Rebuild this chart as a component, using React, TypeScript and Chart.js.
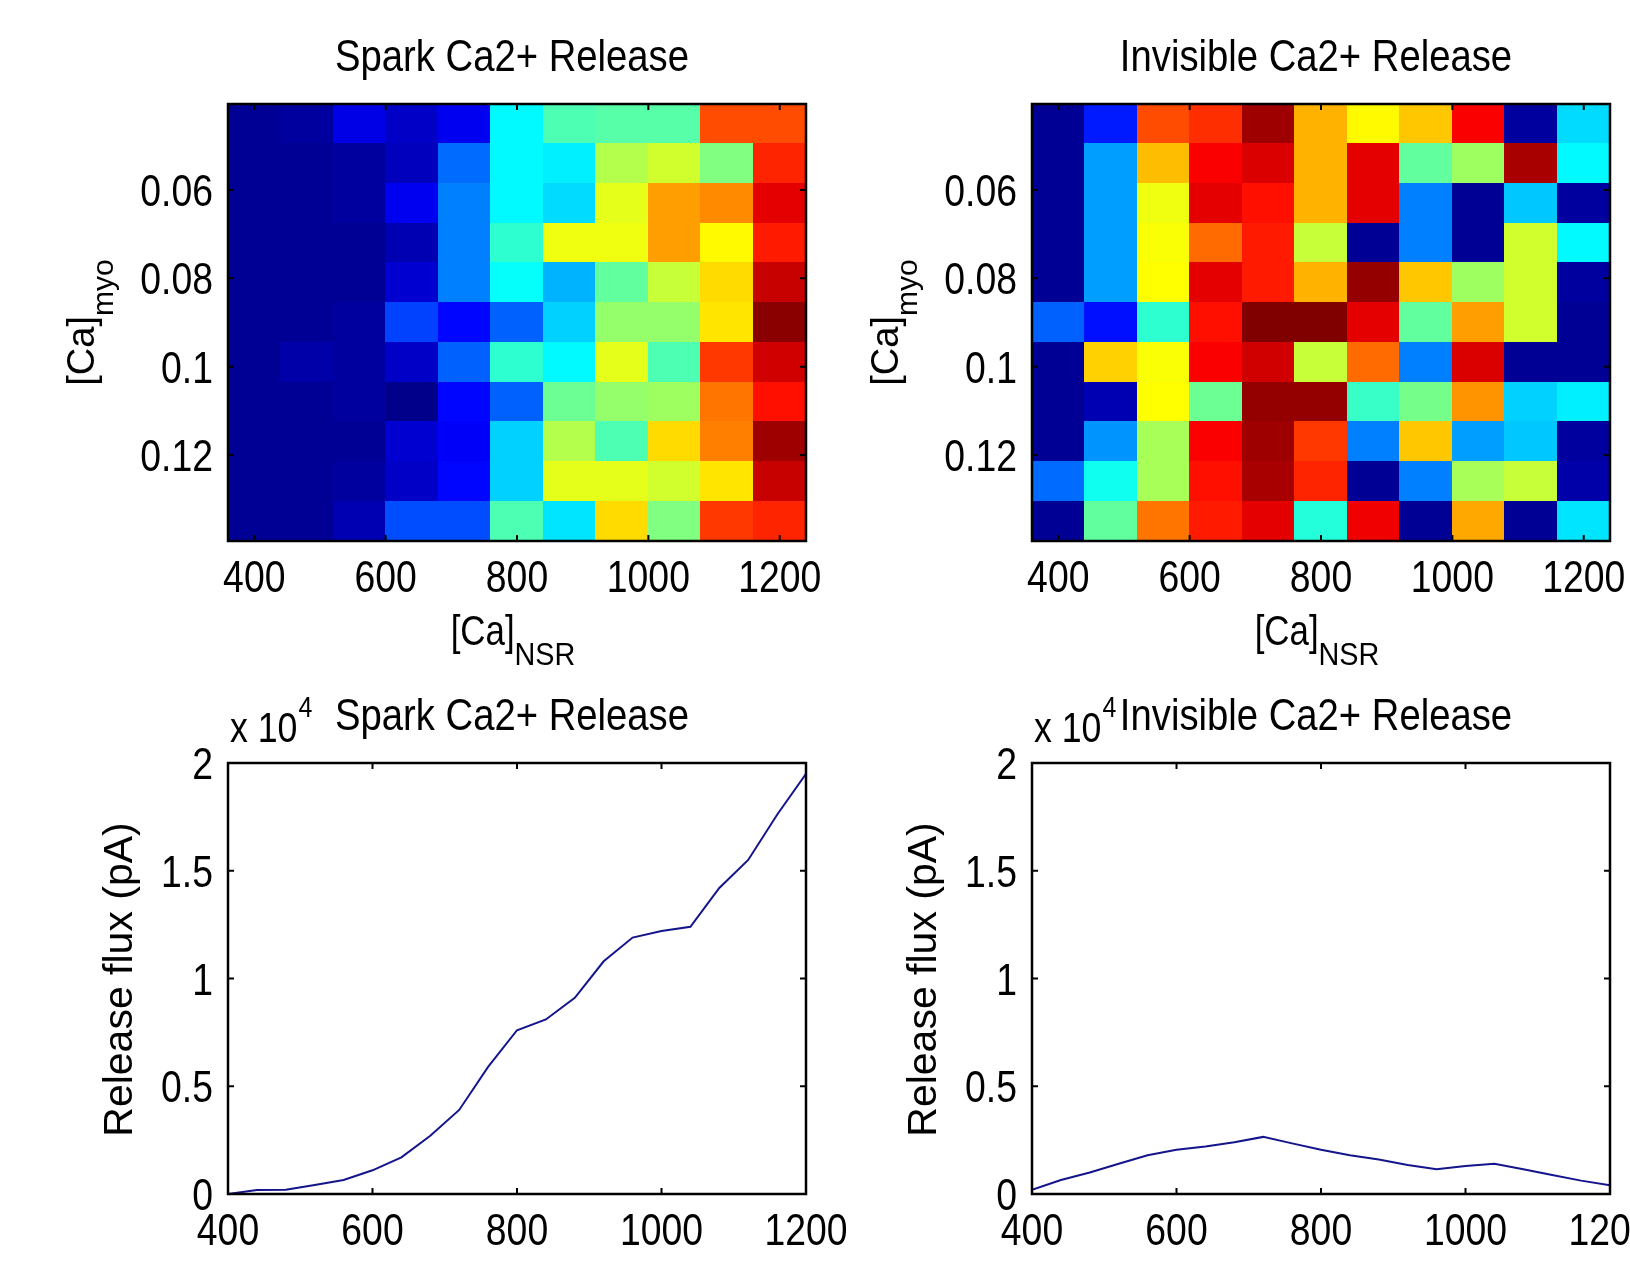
import React, { useEffect, useRef } from "react";
import { Chart, registerables } from "chart.js";

Chart.register(...registerables);

// ---------- data ----------
const nsrCenters = [400, 480, 560, 640, 720, 800, 880, 960, 1040, 1120, 1200];
const myoCenters = [0.045, 0.054, 0.063, 0.072, 0.081, 0.09, 0.099, 0.108, 0.117, 0.126, 0.135];

// normalised colour values (0 = lowest, 1 = highest), rows top -> bottom
const sparkGrid = [
  [0.02, 0.03, 0.10, 0.07, 0.11, 0.37, 0.45, 0.46, 0.46, 0.80, 0.80],
  [0.02, 0.02, 0.03, 0.06, 0.23, 0.37, 0.36, 0.55, 0.58, 0.50, 0.84],
  [0.02, 0.02, 0.03, 0.11, 0.25, 0.37, 0.34, 0.60, 0.72, 0.74, 0.90],
  [0.02, 0.02, 0.02, 0.05, 0.25, 0.42, 0.61, 0.61, 0.72, 0.63, 0.85],
  [0.02, 0.02, 0.02, 0.08, 0.25, 0.38, 0.30, 0.47, 0.57, 0.66, 0.93],
  [0.02, 0.02, 0.03, 0.19, 0.13, 0.22, 0.33, 0.52, 0.52, 0.65, 0.99],
  [0.02, 0.04, 0.03, 0.07, 0.22, 0.42, 0.37, 0.60, 0.45, 0.82, 0.92],
  [0.02, 0.02, 0.03, 0.01, 0.13, 0.22, 0.48, 0.52, 0.53, 0.76, 0.86],
  [0.02, 0.02, 0.02, 0.08, 0.12, 0.33, 0.55, 0.45, 0.66, 0.75, 0.97],
  [0.02, 0.02, 0.03, 0.07, 0.13, 0.33, 0.60, 0.60, 0.58, 0.65, 0.93],
  [0.02, 0.02, 0.05, 0.20, 0.20, 0.45, 0.35, 0.66, 0.50, 0.82, 0.84],
];

const invisibleGrid = [
  [0.02, 0.15, 0.80, 0.83, 0.97, 0.70, 0.63, 0.68, 0.88, 0.03, 0.34],
  [0.02, 0.28, 0.69, 0.88, 0.91, 0.70, 0.90, 0.47, 0.53, 0.96, 0.37],
  [0.02, 0.28, 0.61, 0.90, 0.86, 0.70, 0.90, 0.25, 0.02, 0.32, 0.03],
  [0.02, 0.28, 0.62, 0.77, 0.85, 0.57, 0.02, 0.25, 0.02, 0.58, 0.37],
  [0.02, 0.28, 0.625, 0.90, 0.85, 0.70, 0.98, 0.68, 0.53, 0.58, 0.03],
  [0.22, 0.14, 0.42, 0.86, 1.00, 1.00, 0.90, 0.47, 0.72, 0.58, 0.02],
  [0.02, 0.67, 0.62, 0.88, 0.92, 0.57, 0.77, 0.25, 0.91, 0.02, 0.02],
  [0.02, 0.05, 0.625, 0.48, 0.98, 0.98, 0.43, 0.49, 0.73, 0.33, 0.36],
  [0.02, 0.27, 0.54, 0.88, 0.97, 0.82, 0.25, 0.68, 0.28, 0.32, 0.03],
  [0.23, 0.39, 0.54, 0.86, 0.96, 0.84, 0.02, 0.25, 0.54, 0.57, 0.04],
  [0.02, 0.47, 0.76, 0.85, 0.90, 0.41, 0.89, 0.02, 0.71, 0.02, 0.35],
];

const heatXTicks = [400, 600, 800, 1000, 1200];
const heatXTickLabels = ["400", "600", "800", "1000", "1200"];
const heatYTicks = [0.06, 0.08, 0.1, 0.12];
const heatYTickLabels = ["0.06", "0.08", "0.1", "0.12"];

const fluxNsr = [400, 440, 480, 520, 560, 600, 640, 680, 720, 760, 800, 840, 880, 920, 960, 1000, 1040, 1080, 1120, 1160, 1200];
const sparkFlux = [0, 190, 200, 420, 650, 1100, 1700, 2700, 3900, 5900, 7600, 8100, 9100, 10800, 11900, 12200, 12400, 14200, 15500, 17600, 19500];
const invisibleFlux = [200, 650, 1000, 1400, 1800, 2050, 2200, 2400, 2650, 2350, 2050, 1800, 1600, 1350, 1150, 1300, 1400, 1150, 880, 620, 400];

const fluxXTicks = [400, 600, 800, 1000, 1200];
const fluxXTickLabels = ["400", "600", "800", "1000", "1200"];
const fluxYTicks = [0, 5000, 10000, 15000, 20000];
const fluxYTickLabels = ["0", "0.5", "1", "1.5", "2"];

// ---------- styling ----------
const SANS = "'Liberation Sans', Arial, Helvetica, sans-serif";
const NARROW_X = 0.83; // horizontal squeeze of the upright text

function jet(v: number): string {
  const c = (t: number) => Math.round(255 * Math.max(0, Math.min(1, t)));
  const r = c(1.5 - Math.abs(4 * v - 3));
  const g = c(1.5 - Math.abs(4 * v - 2));
  const b = c(1.5 - Math.abs(4 * v - 1));
  return `rgb(${r},${g},${b})`;
}

type Geo = { cl: number; ct: number; cw: number; ch: number; l: number; t: number; r: number; b: number };

const GEO_TL: Geo = { cl: 0, ct: 0, cw: 900, ch: 720, l: 228, t: 104, r: 806, b: 541 };
const GEO_TR: Geo = { cl: 830, ct: 0, cw: 800, ch: 720, l: 1032, t: 104, r: 1610, b: 541 };
const GEO_BL: Geo = { cl: 0, ct: 640, cw: 900, ch: 624, l: 228, t: 763, r: 806, b: 1194 };
const GEO_BR: Geo = { cl: 830, ct: 640, cw: 800, ch: 624, l: 1032, t: 763, r: 1610, b: 1194 };

function drawText(
  ctx: CanvasRenderingContext2D, text: string, x: number, y: number, size: number,
  align: CanvasTextAlign, sx: number = NARROW_X
) {
  ctx.save();
  ctx.translate(x, y);
  ctx.scale(sx, 1);
  ctx.font = `${size}px ${SANS}`;
  ctx.fillStyle = "#000";
  ctx.textAlign = align;
  ctx.textBaseline = "alphabetic";
  ctx.fillText(text, 0, 0);
  ctx.restore();
}

// main text followed by a lowered subscript, centred on (x, baseline y); optionally rotated
function drawSubText(
  ctx: CanvasRenderingContext2D, x: number, y: number, main: string, sub: string,
  mainSize: number, subSize: number, shift: number, rotate: boolean, sxMain: number, sxSub: number
) {
  ctx.save();
  ctx.translate(x, y);
  if (rotate) ctx.rotate(-Math.PI / 2);
  ctx.fillStyle = "#000";
  ctx.textBaseline = "alphabetic";
  ctx.textAlign = "left";
  ctx.font = `${mainSize}px ${SANS}`;
  const w1 = ctx.measureText(main).width * sxMain;
  ctx.font = `${subSize}px ${SANS}`;
  const w2 = sub ? ctx.measureText(sub).width * sxSub : 0;
  const start = -(w1 + w2) / 2;
  ctx.save();
  ctx.translate(start, 0);
  ctx.scale(sxMain, 1);
  ctx.font = `${mainSize}px ${SANS}`;
  ctx.fillText(main, 0, 0);
  ctx.restore();
  if (sub) {
    ctx.save();
    ctx.translate(start + w1, shift);
    ctx.scale(sxSub, 1);
    ctx.font = `${subSize}px ${SANS}`;
    ctx.fillText(sub, 0, 0);
    ctx.restore();
  }
  ctx.restore();
}

const heatPlugin = {
  id: "heatCells",
  beforeDatasetsDraw(chart: any) {
    const ds = chart.data.datasets[0];
    const xs = chart.scales.x;
    const ys = chart.scales.y;
    const { ctx, chartArea: a } = chart;
    ctx.save();
    ctx.beginPath();
    ctx.rect(a.left, a.top, a.right - a.left, a.bottom - a.top);
    ctx.clip();
    for (const p of ds.data) {
      const x0 = xs.getPixelForValue(p.x - p.hw);
      const x1 = xs.getPixelForValue(p.x + p.hw);
      const y0 = ys.getPixelForValue(p.y - p.hh);
      const y1 = ys.getPixelForValue(p.y + p.hh);
      const L = Math.floor(Math.min(x0, x1));
      const R = Math.ceil(Math.max(x0, x1));
      const T = Math.floor(Math.min(y0, y1));
      const B = Math.ceil(Math.max(y0, y1));
      ctx.fillStyle = jet(p.v);
      ctx.fillRect(L, T, R - L, B - T);
    }
    ctx.restore();
  },
};

type Decor = {
  kind: "heat" | "flux";
  title: string;
  xTicks: number[];
  xLabels: string[];
  yTicks: number[];
  yLabels: string[];
};

function makeDecorPlugin(d: Decor) {
  return {
    id: "decor",
    afterDraw(chart: any) {
      const { ctx, chartArea: a } = chart;
      const xs = chart.scales.x;
      const ys = chart.scales.y;
      ctx.save();
      // box
      ctx.strokeStyle = "#000";
      ctx.lineWidth = 2.5;
      ctx.strokeRect(a.left, a.top, a.right - a.left, a.bottom - a.top);
      // inward ticks on all four sides
      ctx.lineWidth = 2;
      const TL = 6;
      ctx.beginPath();
      for (const v of d.xTicks) {
        const px = xs.getPixelForValue(v);
        ctx.moveTo(px, a.bottom);
        ctx.lineTo(px, a.bottom - TL);
        ctx.moveTo(px, a.top);
        ctx.lineTo(px, a.top + TL);
      }
      for (const v of d.yTicks) {
        const py = ys.getPixelForValue(v);
        ctx.moveTo(a.left, py);
        ctx.lineTo(a.left + TL, py);
        ctx.moveTo(a.right, py);
        ctx.lineTo(a.right - TL, py);
      }
      ctx.stroke();
      ctx.restore();

      // tick labels
      d.xTicks.forEach((v, i) => {
        drawText(ctx, d.xLabels[i], xs.getPixelForValue(v), a.bottom + 51, 45, "center");
      });
      d.yTicks.forEach((v, i) => {
        drawText(ctx, d.yLabels[i], a.left - 15, ys.getPixelForValue(v) + 16, 45, "right");
      });

      const cx = (a.left + a.right) / 2;
      const cy = (a.top + a.bottom) / 2;
      // title
      drawText(ctx, d.title, cx - 5, a.top - 33, 45, "center", 0.85);
      // x-axis title [Ca]NSR
      drawSubText(ctx, cx - 4, a.bottom + 104, "[Ca]", "NSR", 42, 32, 20, false, 0.83, 0.9);
      if (d.kind === "heat") {
        drawSubText(ctx, a.left - 134, cy, "[Ca]", "myo", 38, 30, 19, true, 1, 1);
      } else {
        drawSubText(ctx, a.left - 96, cy + 1, "Release flux (pA)", "", 41, 41, 0, true, 1, 1);
        // exponent label  x 10^4
        ctx.save();
        ctx.font = `43px ${SANS}`;
        const w = ctx.measureText("x 10").width * NARROW_X;
        ctx.restore();
        drawText(ctx, "x 10", a.left + 2, a.top - 21, 43, "left");
        drawText(ctx, "4", a.left + 3 + w, a.top - 46, 30, "left");
      }
    },
  };
}

function baseOptions(g: Geo, xMin: number, xMax: number, xTicks: number[],
  yMin: number, yMax: number, yTicks: number[], yReverse: boolean) {
  return {
    responsive: false,
    animation: false,
    devicePixelRatio: 1,
    events: [],
    layout: {
      autoPadding: false,
      padding: { left: 0, top: g.t - g.ct, right: g.cl + g.cw - g.r, bottom: 0 },
    },
    plugins: {
      legend: { display: false },
      tooltip: { enabled: false },
      title: { display: false },
    },
    scales: {
      x: {
        type: "linear",
        position: "bottom",
        min: xMin,
        max: xMax,
        grid: { display: false, drawTicks: false },
        border: { display: false },
        ticks: { display: false },
        afterBuildTicks: (s: any) => {
          s.ticks = xTicks.map((v) => ({ value: v }));
        },
        afterFit: (s: any) => {
          s.height = g.ct + g.ch - g.b;
          s.paddingLeft = 0;
          s.paddingRight = 0;
        },
      },
      y: {
        type: "linear",
        position: "left",
        min: yMin,
        max: yMax,
        reverse: yReverse,
        grid: { display: false, drawTicks: false },
        border: { display: false },
        ticks: { display: false },
        afterBuildTicks: (s: any) => {
          s.ticks = yTicks.map((v) => ({ value: v }));
        },
        afterFit: (s: any) => {
          s.width = g.l - g.cl;
          s.paddingTop = 0;
          s.paddingBottom = 0;
        },
      },
    },
  };
}

function heatConfig(g: Geo, title: string, grid: number[][]) {
  const hw = (nsrCenters[1] - nsrCenters[0]) / 2;
  const hh = (myoCenters[1] - myoCenters[0]) / 2;
  const cells: any[] = [];
  grid.forEach((row, i) =>
    row.forEach((v, j) => cells.push({ x: nsrCenters[j], y: myoCenters[i], v, hw, hh }))
  );
  const xMin = nsrCenters[0] - hw;
  const xMax = nsrCenters[nsrCenters.length - 1] + hw;
  const yMin = myoCenters[0] - hh;
  const yMax = myoCenters[myoCenters.length - 1] + hh;
  return {
    type: "scatter",
    data: { datasets: [{ data: cells, pointRadius: 0, pointHoverRadius: 0 }] },
    options: baseOptions(g, xMin, xMax, heatXTicks, yMin, yMax, heatYTicks, true),
    plugins: [
      heatPlugin,
      makeDecorPlugin({ kind: "heat", title, xTicks: heatXTicks, xLabels: heatXTickLabels, yTicks: heatYTicks, yLabels: heatYTickLabels }),
    ],
  };
}

function fluxConfig(g: Geo, title: string, values: number[]) {
  return {
    type: "line",
    data: {
      datasets: [
        {
          data: fluxNsr.map((x, i) => ({ x, y: values[i] })),
          borderColor: "#14148c",
          borderWidth: 2,
          pointRadius: 0,
          pointHoverRadius: 0,
          tension: 0,
          fill: false,
        },
      ],
    },
    options: baseOptions(g, fluxNsr[0], fluxNsr[fluxNsr.length - 1], fluxXTicks,
      fluxYTicks[0], fluxYTicks[fluxYTicks.length - 1], fluxYTicks, false),
    plugins: [
      makeDecorPlugin({ kind: "flux", title, xTicks: fluxXTicks, xLabels: fluxXTickLabels, yTicks: fluxYTicks, yLabels: fluxYTickLabels }),
    ],
  };
}

function Panel({ geo, build }: { geo: Geo; build: () => any }) {
  const ref = useRef<HTMLCanvasElement>(null);
  useEffect(() => {
    const chart = new Chart(ref.current as HTMLCanvasElement, build());
    return () => chart.destroy();
  }, []);
  return (
    <canvas
      ref={ref}
      width={geo.cw}
      height={geo.ch}
      style={{ position: "absolute", left: geo.cl, top: geo.ct, width: geo.cw, height: geo.ch }}
    />
  );
}

export default function App() {
  return (
    <div
      style={{
        position: "absolute",
        left: 0,
        top: 0,
        width: 1630,
        height: 1264,
        overflow: "hidden",
        background: "#fff",
      }}
    >
      <Panel geo={GEO_TL} build={() => heatConfig(GEO_TL, "Spark Ca2+ Release", sparkGrid)} />
      <Panel geo={GEO_TR} build={() => heatConfig(GEO_TR, "Invisible Ca2+ Release", invisibleGrid)} />
      <Panel geo={GEO_BL} build={() => fluxConfig(GEO_BL, "Spark Ca2+ Release", sparkFlux)} />
      <Panel geo={GEO_BR} build={() => fluxConfig(GEO_BR, "Invisible Ca2+ Release", invisibleFlux)} />
    </div>
  );
}
